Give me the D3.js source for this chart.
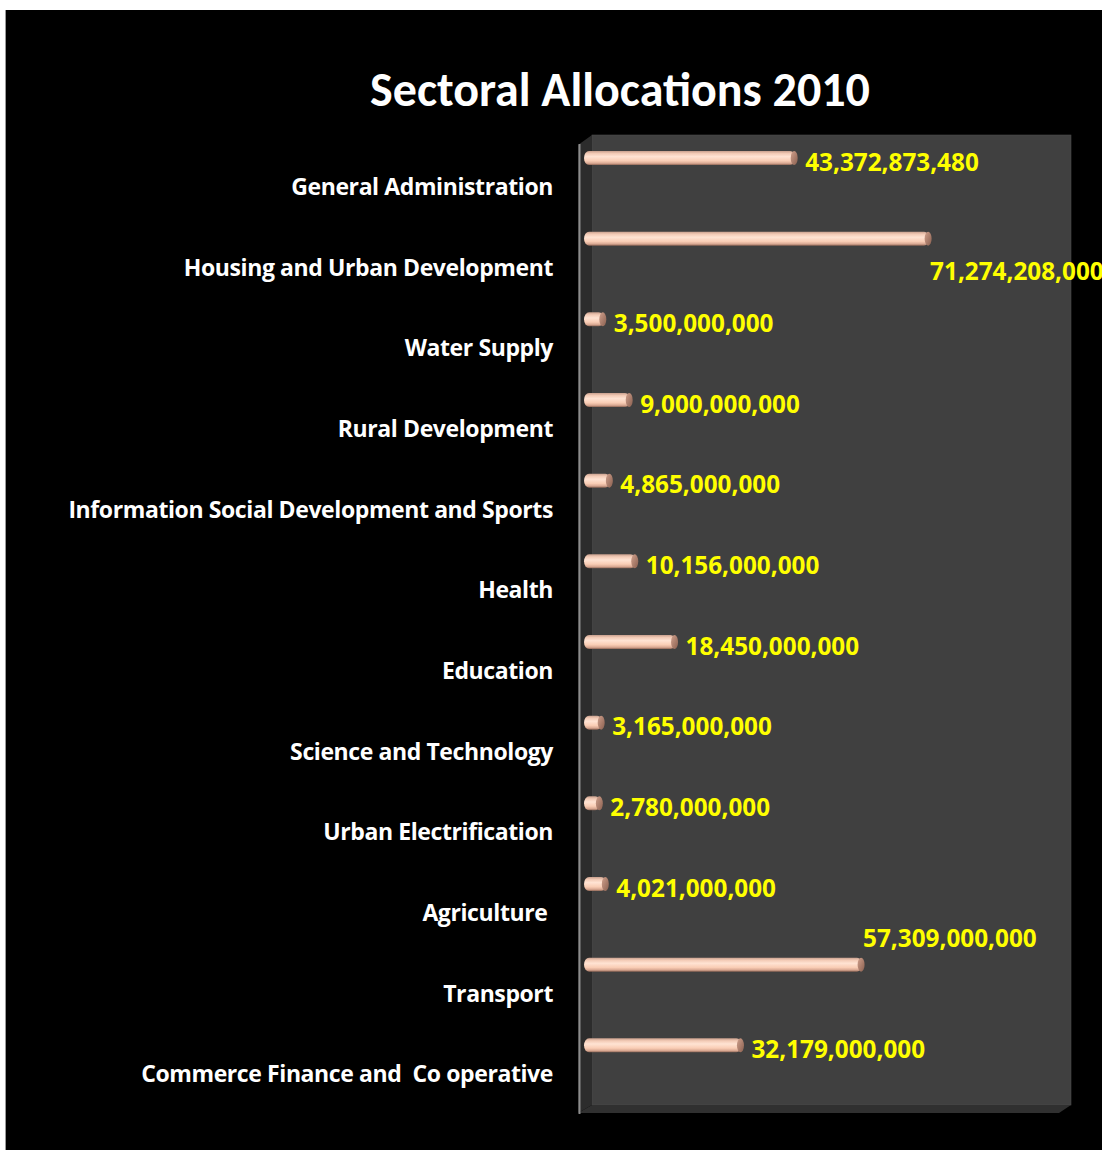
<!DOCTYPE html>
<html>
<head>
<meta charset="utf-8">
<script src="https://cdn.jsdelivr.net/npm/d3@7"></script>
<style>
  html, body { margin: 0; padding: 0; background: #ffffff; }
  svg { display: block; }
  text { font-weight: 700; }
  .title { font-family: Carlito, Calibri, Lato, sans-serif; }
  .cat, .val { font-family: "Open Sans", "Noto Sans", sans-serif; }
</style>
</head>
<body>
<svg id="chart" width="1102" height="1150"></svg>
<script>
// Sector names, top to bottom
const categories = [
  "General Administration",
  "Housing and Urban Development",
  "Water Supply",
  "Rural Development",
  "Information Social Development and Sports",
  "Health",
  "Education",
  "Science and Technology",
  "Urban Electrification",
  "Agriculture ",
  "Transport",
  "Commerce Finance and  Co operative"
];

// Allocations (currency units)
const allocations = [
  43372873480,
  71274208000,
  3500000000,
  9000000000,
  4865000000,
  10156000000,
  18450000000,
  3165000000,
  2780000000,
  4021000000,
  57309000000,
  32179000000
];

const chartTitle = "Sectoral Allocations 2010";
const axisMax = 100e9;

const svg = d3.select("#chart");
const fmt = d3.format(",");

// Outer chart area
svg.append("rect").attr("x", 5).attr("y", 10).attr("width", 1097).attr("height", 1140).attr("fill", "#000");
svg.append("line").attr("x1", 5.5).attr("x2", 5.5).attr("y1", 10).attr("y2", 1150).attr("stroke", "#9a9a9a").attr("stroke-width", 1);

// Plot geometry (3D box: back wall, side wall, floor)
const wall = { left: 592, right: 1071, top: 135, bottom: 1105 };
const sideX = 578;
const plotBottom = 1113;

const x = d3.scaleLinear().domain([0, axisMax]).range([587, 1067]);
const y = d3.scaleBand().domain(categories).range([145, plotBottom]);

// back wall
svg.append("rect")
  .attr("x", wall.left).attr("y", wall.top)
  .attr("width", wall.right - wall.left).attr("height", wall.bottom - wall.top)
  .attr("fill", "#404040").attr("stroke", "#4a4a4a").attr("stroke-width", 0.6);

// side wall
svg.append("path")
  .attr("d", `M${wall.left},${wall.top} L${sideX},${wall.top + 10} L${sideX},${plotBottom} L${wall.left},${wall.bottom} Z`)
  .attr("fill", "#2c2c2c");

// floor
svg.append("path")
  .attr("d", `M${wall.left},${wall.bottom} L${wall.right},${wall.bottom} L${wall.right - 12},${plotBottom} L${sideX},${plotBottom} Z`)
  .attr("fill", "#303030");

// category axis line
svg.append("line")
  .attr("x1", 579.5).attr("x2", 579.5).attr("y1", 144).attr("y2", plotBottom + 1)
  .attr("stroke", "#8c8c8c").attr("stroke-width", 2);

// Title
svg.append("text")
  .attr("class", "title")
  .attr("x", 620).attr("y", 106)
  .attr("text-anchor", "middle")
  .attr("fill", "#ffffff")
  .attr("font-size", 48)
  .text(chartTitle);

// Category labels
svg.append("g").selectAll("text")
  .data(categories)
  .join("text")
  .attr("class", "cat")
  .attr("x", 553)
  .attr("y", d => y(d) + y.bandwidth() / 2 + 1.5)
  .attr("dy", "0.35em")
  .attr("text-anchor", "end")
  .attr("fill", "#ffffff")
  .attr("font-size", 23)
  .attr("letter-spacing", -0.4)
  .style("white-space", "pre")
  .text(d => d);

// Cylinder shading
const defs = svg.append("defs");
const g1 = defs.append("linearGradient").attr("id", "cyl").attr("x1", 0).attr("x2", 0).attr("y1", 0).attr("y2", 1);
[["0%", "#c9a08e"], ["18%", "#f3cbb6"], ["40%", "#ffe3d3"], ["70%", "#f9cdb5"], ["88%", "#d9a892"], ["100%", "#8e6656"]]
  .forEach(([o, c]) => g1.append("stop").attr("offset", o).attr("stop-color", c));
const g2 = defs.append("linearGradient").attr("id", "cap").attr("x1", 0).attr("x2", 1).attr("y1", 0).attr("y2", 1);
[["0%", "#d0a08c"], ["100%", "#8a6050"]]
  .forEach(([o, c]) => g2.append("stop").attr("offset", o).attr("stop-color", c));

const barH = 14;
const barCenter = d => y(d) + 13;
const rows = categories.map((c, i) => ({ cat: c, value: allocations[i] }));

const bars = svg.append("g").selectAll("g").data(rows).join("g");
bars.append("rect")
  .attr("x", x(0) - 3)
  .attr("y", d => barCenter(d.cat) - barH / 2)
  .attr("width", d => x(d.value) - x(0) + 3)
  .attr("height", barH)
  .attr("rx", 5).attr("ry", 7)
  .attr("fill", "url(#cyl)");
bars.append("ellipse")
  .attr("cx", d => x(d.value) - 1)
  .attr("cy", d => barCenter(d.cat))
  .attr("rx", 3.5).attr("ry", barH / 2)
  .attr("fill", "url(#cap)");

// Value labels: right of the bar end; the longest bar's label sits below it, Transport's above
const placement = {
  "Housing and Urban Development": { dx: 1, dy: 33 },
  "Transport": { dx: 1, dy: -26 }
};
svg.append("g").selectAll("text")
  .data(rows)
  .join("text")
  .attr("class", "val")
  .attr("x", d => x(d.value) + (placement[d.cat] ? placement[d.cat].dx : 10))
  .attr("y", d => barCenter(d.cat) + (placement[d.cat] ? placement[d.cat].dy : 4))
  .attr("dy", "0.35em")
  .attr("fill", "#ffff00")
  .attr("font-size", 24.3)
  .text(d => fmt(d.value));
</script>
</body>
</html>
